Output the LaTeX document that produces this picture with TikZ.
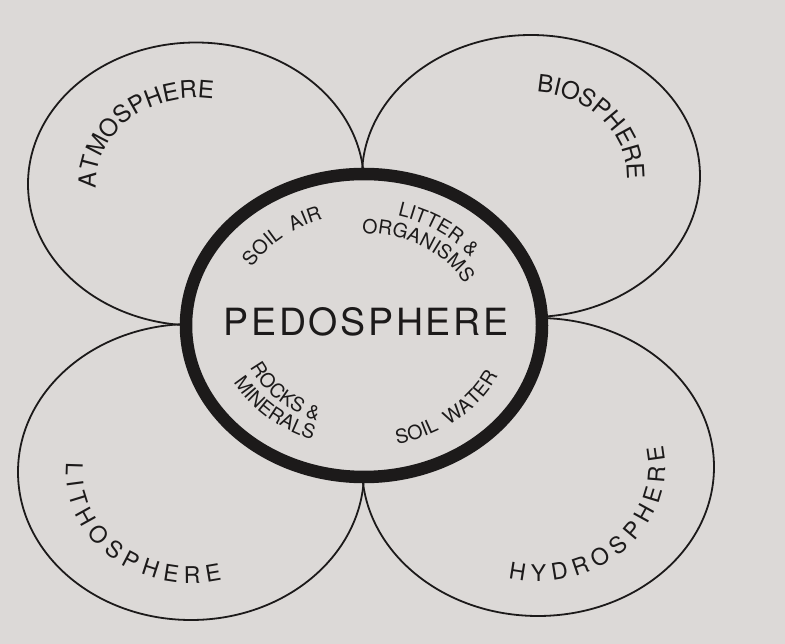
\documentclass[tikz,border=0pt]{standalone}
\usepackage{fontspec}
\setmainfont{TeX Gyre Heros}
\newfontfamily\pedofont[LetterSpace=7]{TeX Gyre Heros}
\usetikzlibrary{shapes.geometric,decorations.text}

\definecolor{paper}{RGB}{220,217,215}
\definecolor{ink}{RGB}{28,26,26}
\newcommand{\bigletters}{\fontsize{24}{24}\selectfont}
\newcommand{\wideletters}{\fontsize{23}{23}\selectfont}
\newcommand{\smallletters}{\fontsize{19.5}{19.5}\selectfont}

\begin{document}
\begin{tikzpicture}[x=1pt,y=1pt,
  sphere/.style={ellipse,draw=ink,line width=1.8pt,inner sep=0pt},
  core/.style={ellipse,draw=ink,line width=12.5pt,fill=paper,inner sep=0pt},
  curved/.style={decorate,decoration={text along path,text align=center,text color=ink,text={#1}}}]
  \fill[paper] (0,0) rectangle (785,-644);
  \useasboundingbox (0,0) rectangle (785,-644);

  % the four outer spheres
  \node[sphere,minimum width=336pt,minimum height=283pt] (atmosphere)  at (196,-184)   {};
  \node[sphere,minimum width=338pt,minimum height=282pt] (biosphere)   at (531,-176)   {};
  \node[sphere,minimum width=346pt,minimum height=296pt] (lithosphere) at (191,-472)   {};
  \node[sphere,minimum width=352pt,minimum height=298pt] (hydrosphere) at (538,-467)   {};

  % soil in the middle, covers the overlaps
  \node[core,minimum width=356pt,minimum height=303pt]   (pedosphere)  at (364,-325.5) {};
  \node[text=ink,font=\pedofont\fontsize{37.5}{38}\selectfont] (pedolabel) at (366,-321.5) {PEDOSPHERE};

  % names round the outer spheres
  {\bigletters
  \path[curved={ATMOSPHERE}]
    ([shift={(192:100pt and 86pt)}]atmosphere.center) arc[start angle=192,end angle=72,x radius=100pt,y radius=86pt];
  \path[curved={BIOSPHERE}]
    ([shift={(94:96pt and 84pt)}]biosphere.center) arc[start angle=94,end angle=-11,x radius=96pt,y radius=84pt];}
  % the lower two are spread out letter by letter
  {\wideletters
  \path[curved={L I T H O S P H E R E}]
    ([shift={(170:125pt and 111pt)}]lithosphere.center) arc[start angle=170,end angle=289,x radius=125pt,y radius=111pt];
  \path[curved={H Y D R O S P H E R E}]
    ([shift={(250:127pt and 114pt)}]hydrosphere.center) arc[start angle=250,end angle=378,x radius=127pt,y radius=114pt];}

  % parts of the soil
  {\smallletters
  \path[curved={SOIL{ } AIR}]
    ([shift={(155:131pt and 112pt)}]pedosphere.center) arc[start angle=155,end angle=103,x radius=131pt,y radius=112pt];
  \path[curved={LITTER {\&}}]
    ([shift={(81:134pt and 113pt)}]pedosphere.center) arc[start angle=81,end angle=31,x radius=134pt,y radius=113pt];
  \path[curved={ORGANISMS}]
    ([shift={(96:113pt and 92pt)}]pedosphere.center) arc[start angle=96,end angle=21,x radius=113pt,y radius=92pt];
  \path[curved={ROCKS {\&}}]
    ([shift={(196:125pt and 103pt)}]pedosphere.center) arc[start angle=196,end angle=255,x radius=125pt,y radius=103pt];
  \path[curved={MINERALS}]
    ([shift={(200:147pt and 122pt)}]pedosphere.center) arc[start angle=200,end angle=256,x radius=147pt,y radius=122pt];
  \path[curved={SOIL{ } WATER}]
    ([shift={(275:147pt and 122pt)}]pedosphere.center) arc[start angle=275,end angle=345,x radius=147pt,y radius=122pt];}
\end{tikzpicture}
\end{document}
